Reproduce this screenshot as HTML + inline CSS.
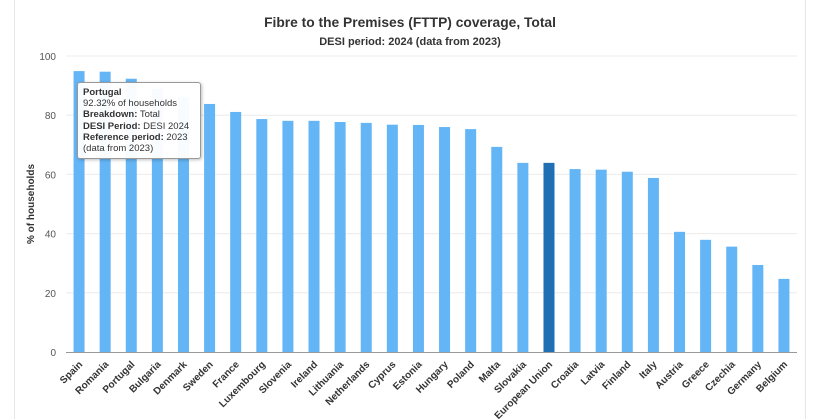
<!DOCTYPE html>
<html><head><meta charset="utf-8"><style>
body{margin:0;background:#fff;font-family:"Liberation Sans",sans-serif}
#wrap{position:relative;width:825px;height:419px;overflow:hidden}
.frame{position:absolute;left:14px;top:0;width:790px;height:419px;border-left:1px solid #e6e6e6;border-right:1px solid #e6e6e6}
.tip{position:absolute;left:77px;top:82px;width:112px;padding:4px 5px;background:rgba(255,255,255,0.96);border:1px solid #999;border-radius:3px;box-shadow:1px 1px 3px rgba(0,0,0,.25);font-size:9.5px;line-height:11.2px;color:#333}
</style></head><body>
<div id="wrap">
<div class="frame"></div>
<svg id="chart" width="825" height="419" style="position:absolute;left:0;top:0"></svg>
<div class="tip"><b>Portugal</b><br>92.32% of households<br><b>Breakdown:</b> Total<br><b>DESI Period:</b> DESI 2024<br><b>Reference period:</b> 2023<br>(data from 2023)</div>
</div>
<script>
const categories=["Spain","Romania","Portugal","Bulgaria","Denmark","Sweden","France","Luxembourg","Slovenia","Ireland","Lithuania","Netherlands","Cyprus","Estonia","Hungary","Poland","Malta","Slovakia","European Union","Croatia","Latvia","Finland","Italy","Austria","Greece","Czechia","Germany","Belgium"];
const values=[94.9,94.7,92.32,89,86,83.8,81.1,78.7,78.1,78.1,77.7,77.4,76.8,76.7,76.0,75.3,69.3,63.9,63.9,61.8,61.6,60.9,58.8,40.6,37.9,35.6,29.4,24.7];
const yTicks=[0,20,40,60,80,100];
const NS="http://www.w3.org/2000/svg";
const svg=document.getElementById('chart');
const x0=66,x1=797,yTop=56,yBot=352;
const step=(x1-x0)/categories.length;
const y=v=>yBot-(v/100)*(yBot-yTop);
const xc=i=>x0+step*(i+0.5);
function mk(t,a){const e=document.createElementNS(NS,t);for(const k in a)e.setAttribute(k,a[k]);svg.appendChild(e);return e;}
let t=mk('text',{x:410,y:27,'text-anchor':'middle','font-size':13.8,'font-weight':'bold',fill:'#333'});t.textContent="Fibre to the Premises (FTTP) coverage, Total";

t=mk('text',{x:410,y:45,'text-anchor':'middle','font-size':11,'font-weight':'bold',fill:'#333'});t.textContent="DESI period: 2024 (data from 2023)";

t=mk('text',{x:0,y:0,transform:'translate(34,204) rotate(-90)','text-anchor':'middle','font-size':10,'font-weight':'bold',fill:'#333'});t.textContent="% of households";

yTicks.forEach(v=>{
 if(v>0){const g=mk('line',{x1:x0,x2:x1,y1:y(v),y2:y(v),stroke:'#ececec','stroke-width':1});}
 const l=mk('text',{x:56,y:y(v)+4,'text-anchor':'end','font-size':10,fill:'#555'});l.textContent=v;
 
});
values.forEach((v,i)=>{
 const r=mk('rect',{x:xc(i)-5.5,y:y(v),width:11,height:yBot-y(v),fill:categories[i]==="European Union"?'#1f6fb4':'#64b5f6'});
 
 
 const l=mk('text',{x:0,y:0,transform:`translate(${xc(i)+4},${yBot+13}) rotate(-45)`,'text-anchor':'end','font-size':10,'font-weight':'bold',fill:'#333'});
 l.textContent=categories[i];
 
 
});
const ax=mk('line',{x1:x0,x2:x1,y1:yBot+0.5,y2:yBot+0.5,stroke:'#999','stroke-width':1});


</script>
</body></html>
